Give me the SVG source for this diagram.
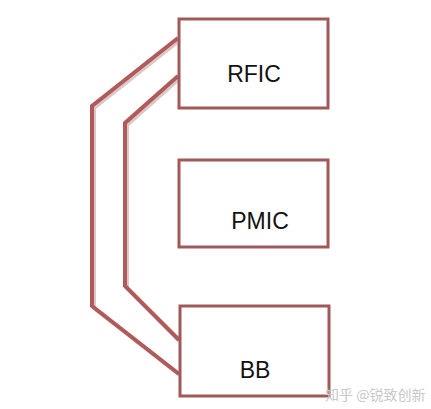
<svg xmlns="http://www.w3.org/2000/svg" width="431" height="409" viewBox="0 0 431 409">
<style>
.box{fill:#fff;stroke:#a25858;stroke-width:3}
.lbl{font-family:"Liberation Sans",Arial,sans-serif;font-size:23px;fill:#111}
.wire{fill:none;stroke:#b05a5a;stroke-width:4;stroke-linejoin:miter}
.shadow{fill:none;stroke:#dcc8c8;stroke-width:4;stroke-linejoin:miter}
.wm{font-family:"Noto Sans CJK SC","Noto Sans",sans-serif;font-size:14px;fill:#c8c8c8}
</style>
<rect width="431" height="409" fill="#fff"/>
<g id="connectors">
<path class="shadow" d="M180,40 L94,108 L94,308 L181,376"/>
<path class="shadow" d="M180,78 L127,125 L127,288 L181,342"/>
<path class="wire" d="M178,38 L92,106 L92,306 L179,374"/>
<path class="wire" d="M178,76 L125,123 L125,286 L179,340"/>
</g>
<g id="rfic">
<rect class="box" x="179" y="19" width="149" height="89"/>
<text class="lbl" x="254" y="82" text-anchor="middle">RFIC</text>
</g>
<g id="pmic">
<rect class="box" x="179" y="160" width="149" height="87"/>
<text class="lbl" x="260" y="229" text-anchor="middle">PMIC</text>
</g>
<g id="bb">
<rect class="box" x="180" y="306" width="149" height="90"/>
<text class="lbl" x="255" y="378" text-anchor="middle">BB</text>
</g>
<text class="wm" x="325" y="400">知乎 @锐致创新</text>
</svg>
